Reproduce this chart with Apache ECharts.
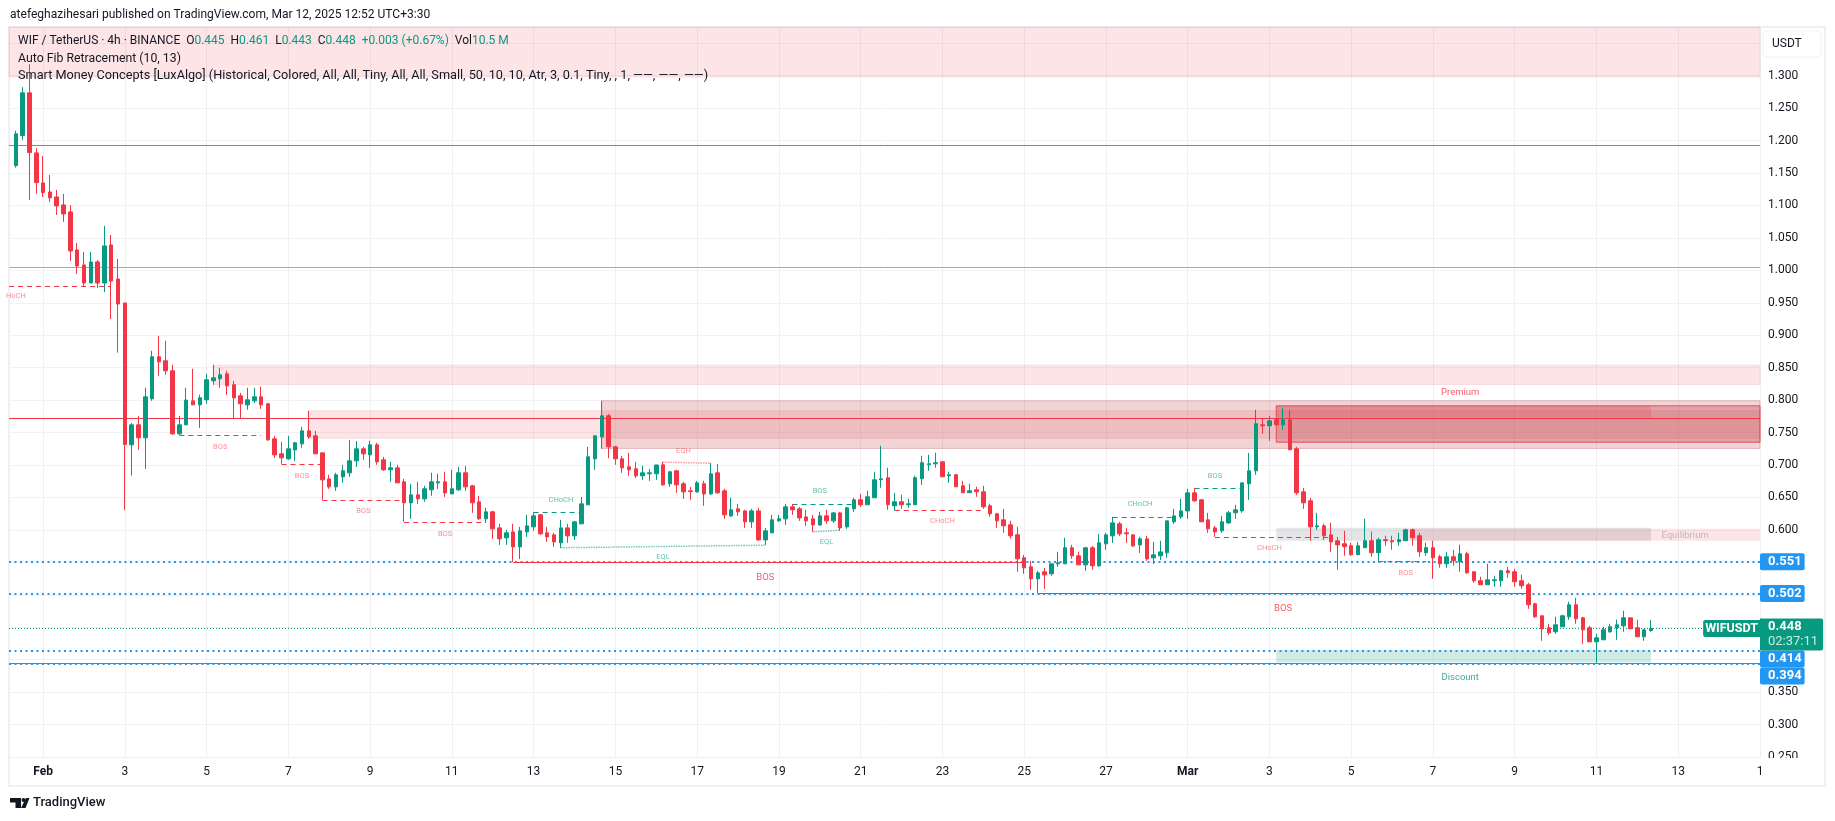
<!DOCTYPE html>
<html><head><meta charset="utf-8">
<style>html,body{margin:0;padding:0;background:#fff}#c{width:1835px;height:821px}</style>
<script src="https://cdn.jsdelivr.net/npm/echarts@6/dist/echarts.min.js"></script>
</head><body><div id="c"></div>
<script>
// candles: [open, close, low, high]
const candlesFeb1 = [
[1.1614,1.2103,1.1584,1.2149],[1.2077,1.2735,1.201,1.2822],[1.2735,1.1815,1.1085,1.3177],[1.181,1.1352,1.1178,1.1882],
[1.1347,1.1198,1.1131,1.1763],[1.1208,1.1116,1.1054,1.147],[1.1131,1.0992,1.0854,1.124],[1.1008,1.0869,1.0746,1.1178],
[1.09,1.0299,1.0144,1.1003],[1.0314,1.0067,.9944,1.0422],[1.0083,.9805,.9759,1.0283],[.9805,1.0129,.9805,1.0283],
[1.0129,.9805,.9728,1.016],[.9805,1.0376,.9666,1.0684],[1.0391,.9836,.925,1.0545],[.9867,.9481,.8731,1.0175],[.9497,.7316,.6309,.9497]];
const candlesFeb3 = [
[.7311,.7619,.6838,.7645],[.7619,.7419,.7233,.7758],[.7419,.8051,.694,.819],[.802,.8668,.7989,.876],[.8668,.859,.8375,.8991],
[.8606,.8452,.839,.8914],[.8452,.748,.7465,.8544],[.748,.7619,.7465,.7758],[.7619,.8,.7619,.819],[.7989,.7927,.7927,.8483],
[.7927,.8035,.7573,.8082],[.8005,.8313,.7943,.8405],[.8297,.8344,.8236,.8544],[.8328,.839,.819,.8498],[.8405,.822,.808,.8452],
[.8236,.8035,.7722,.8297],[.8066,.7943,.7722,.8112],[.7927,.8005,.785,.819],[.7989,.8051,.7958,.819],[.8051,.7927,.7866,.8205],
[.7943,.7388,.7372,.7958],[.7403,.7156,.711,.7449],[.7172,.711,.7018,.7357],[.7095,.7249,.7079,.7449],[.7233,.7342,.7064,.7357],
[.7326,.7526,.7264,.7588],[.7526,.7434,.7403,.7835],[.7449,.7172,.7172,.7526],[.7187,.6771,.6463,.7187],[.6786,.6663,.6632,.6848],
[.6663,.6848,.6601,.6879],[.6817,.691,.6725,.7002],[.6879,.7064,.6817,.7388],[.7064,.7249,.697,.737]];
const candlesFeb9 = [
[.7249,.7172,.708,.728],[.7157,.7311,.6956,.7373],[.7311,.7049,.7003,.7342],[.708,.6926,.691,.7126],[.6926,.6956,.6741,.7049],
[.6956,.6725,.6725,.7003],[.6741,.6417,.6124,.6787],[.6417,.654,.617,.671],[.654,.6478,.6401,.6741],[.6478,.6633,.6432,.6679],
[.6617,.6741,.6525,.688],[.6725,.6741,.6633,.6864],[.6741,.657,.6509,.6895],[.6555,.6633,.6555,.6926],[.6617,.688,.6602,.6972],
[.688,.6663,.6602,.6987],[.6679,.6417,.6263,.6694],[.6432,.617,.6155,.6525],[.617,.6278,.6108,.634],[.6278,.6016,.5862,.6294],
[.6031,.5862,.5769,.6093],[.5877,.5954,.5769,.6],[.5969,.5738,.5507,.6093],[.5738,.5985,.5553,.6047],[.5969,.6062,.5892,.6232],
[.6047,.6216,.5985,.6278],[.6232,.5939,.5923,.6247],[.5954,.5892,.5815,.6047],[.5923,.5815,.5738,.5954],[.58,.6031,.5723,.6155],
[.6031,.5908,.58,.6093],[.5908,.6124,.5846,.6139],[.6093,.6401,.6093,.6509],[.6386,.7126,.6386,.728],[.7095,.745,.6926,.745],
[.7434,.7758,.725,.799],[.7758,.728,.7105,.7789]];
const candlesFeb15 = [
[.728,.7095,.7003,.7296],[.7095,.6956,.6879,.7141],[.6972,.6926,.6833,.7188],[.6941,.6833,.6802,.7049],[.6833,.6879,.6771,.6987],
[.6864,.6879,.6756,.6941],[.6864,.7,.6771,.7003],[.7003,.6694,.6679,.7049],[.671,.6895,.6663,.691],[.691,.6694,.6571,.6926],
[.671,.6586,.6478,.6741],[.6602,.6591,.6463,.6663],[.6586,.6725,.6571,.6756],[.671,.6555,.637,.6756],[.6555,.6864,.654,.7033],
[.6879,.6571,.6555,.7018],[.6602,.6232,.617,.6633],[.6216,.6309,.62,.6494],[.6324,.6278,.6216,.6401],[.6293,.6124,.6031,.6309],
[.6124,.6293,.6031,.6324],[.6293,.5846,.583,.634],[.5846,.5985,.5769,.6031],[.5954,.6155,.5954,.6232],[.6139,.617,.6124,.6232],
[.617,.6355,.6077,.6401],[.6355,.6309,.6232,.6401],[.6324,.6185,.6139,.6355],[.62,.6139,.6062,.6309],[.617,.6077,.5969,.6232],
[.6077,.6216,.6062,.6278],[.6216,.6139,.6093,.6309],[.6139,.6262,.6108,.6278],[.6262,.6031,.5985,.6278],[.6047,.634,.6016,.6355],
[.6324,.6463,.6278,.6494]];
const candlesFeb21 = [
[.6464,.6387,.6356,.6556],[.6387,.651,.6387,.6603],[.6495,.6772,.6495,.6896],[.6772,.6788,.6649,.7296],[.6803,.6387,.631,.6957],
[.6371,.6433,.6294,.6572],[.6433,.6387,.6325,.6541],[.6387,.6402,.634,.648],[.6387,.6803,.6387,.6834],[.6788,.7034,.6695,.7142],
[.7003,.7019,.6911,.7158],[.7019,.7034,.6957,.7189],[.705,.6818,.6818,.705],[.6834,.6849,.6726,.6896],[.6849,.6664,.6664,.6865],
[.668,.6572,.6572,.6757],[.6572,.6603,.6572,.6711],[.6618,.6587,.651,.6664],[.6587,.6356,.6325,.668],[.6371,.6248,.6202,.6402],
[.6248,.614,.6032,.6263],[.6155,.6063,.5955,.6325],[.6078,.5909,.5862,.614],[.5924,.5554,.5354,.6047],[.557,.5415,.5323,.5616],
[.5431,.5246,.5076,.5523],[.5246,.5338,.503,.5369],[.5354,.5307,.5091,.5415],[.5323,.5477,.5292,.5477],[.5477,.5492,.5431,.5662],
[.5477,.5724,.5477,.5878],[.5724,.56,.5554,.577],[.56,.5461,.5461,.5662],[.5461,.5724,.5369,.5739],[.5724,.5446,.5384,.5754],
[.5446,.5801,.5431,.5939],[.5785,.5923,.5692,.5955]];
const candlesFeb27 = [
[.5908,.6108,.58,.6201],[.6093,.5939,.5908,.6124],[.5954,.5939,.58,.6031],[.5923,.5754,.5738,.5939],[.5769,.5862,.5646,.5892],
[.5862,.5553,.5522,.5908],[.5569,.5615,.5476,.5815],[.56,.5661,.5538,.5831],[.5646,.6139,.5569,.6139],[.6124,.6216,.6093,.6324],
[.6201,.6293,.617,.6478],[.6293,.6571,.617,.6633],[.6571,.6448,.6432,.6648],[.6463,.6124,.6124,.6478],[.6155,.6016,.5954,.6263],
[.6031,.5969,.5892,.6062],[.5985,.6124,.5954,.6216],[.6108,.6263,.6093,.6293],[.6263,.6309,.617,.6386],[.6293,.6725,.6263,.6725],
[.671,.691,.6463,.7188],[.691,.7635,.6848,.7851],[.762,.7604,.7481,.7727],[.7604,.7681,.7373,.7758],[.7697,.762,.7604,.7712],
[.762,.7697,.7542,.7882],[.7697,.7234,.7234,.7851]];
const candlesMar3 = [
[.7249,.6571,.654,.728],[.6586,.6417,.6324,.6648],[.6448,.6047,.5831,.6494],[.6047,.6062,.6,.6263],[.6062,.5908,.5846,.6093],
[.5923,.5815,.5661,.6108],[.5831,.5769,.5384,.5892],[.5787,.574,.5601,.5987],[.5756,.5617,.5601,.5802],[.5617,.5756,.5617,.5817],
[.5725,.5833,.5725,.6172],[.5833,.5648,.5586,.5972],[.5648,.5848,.5509,.5879],[.5848,.5833,.5756,.591],[.5833,.5817,.5694,.591],
[.5817,.5848,.5756,.5956],[.5833,.6002,.5833,.6018],[.6002,.5879,.5756,.6018],[.591,.5663,.5586,.5956],[.5648,.5725,.5601,.5802],
[.5725,.5571,.5247,.5833],[.5586,.5478,.5416,.5617],[.5478,.5586,.5416,.5663],[.5586,.5524,.5447,.5694],[.5509,.5632,.5355,.5771],
[.5632,.5339,.5324,.5663],[.5355,.5216,.5185,.5355],[.5216,.5154,.5154,.5278],[.5154,.5231,.5154,.5478]];
const candlesMar8 = [
[.5216,.5231,.5123,.5293],[.5216,.537,.5123,.5386],[.537,.5339,.5262,.5432],[.5355,.5201,.5123,.5401],[.5216,.5139,.5093,.5309],
[.5154,.4846,.4784,.5185],[.4861,.4661,.4645,.4877],[.4676,.4476,.4291,.4676],[.4491,.4414,.4383,.4553],[.443,.4537,.4399,.4661],
[.4507,.4676,.4507,.4692],[.4661,.4846,.4615,.4892],[.4846,.463,.4553,.4954],[.4645,.446,.4245,.4661],[.4491,.4275,.4275,.4522],
[.4275,.4337,.3952,.4399],[.4306,.446,.4306,.4507],[.443,.4507,.4414,.4553],[.4491,.4537,.4306,.4615],[.4522,.4645,.443,.4753],
[.4645,.4476,.4476,.4645],[.4491,.4353,.4353,.4615],[.4353,.446,.4291,.4476],[.445,.448,.443,.461]];

// x axis
const slotCount = 258;          // 4h slots shown, first one starts on Jan 31
const firstCandleSlot = 1;
const dateTickSlots = [5,17,29,41,53,65,77,89,101,113,125,137,149,161,173,185,197,209,221,233,245,257];
const dateTickTexts = ['Feb','3','5','7','9','11','13','15','17','19','21','23','25','27','Mar','3','5','7','9','11','13','1'];

// horizontal levels
const fibLevels = [1.193, 1.005];
const resistanceLevel = 0.7723;
const swingLevels = [0.551, 0.502, 0.414, 0.394];
const lastPrice = 0.448;

// zones: [startSlot, endSlot, top, bottom]
const orderBlocksLight = [[0,257,1.375,1.2978],[30,257,.8539,.8241],[44,257,.7835,.7413]];
const orderBlockDark = [87,257,.799,.7255];
const premiumBox = [186,257,.7912,.7352];
const premiumZone = [186,241,.7912,.7728];
const equilibriumZone = [186,241,.6033,.5833];
const equilibriumExt = [206,257,.6018,.5833];
const discountZone = [186,241,.4147,.3958];

// structure lines: [startSlot, endSlot, levelStart, levelEnd]
const redDashed = [[0,15,.9762,.9762],[25,37,.746,.746],[40,46,.7012,.7012],[46,58,.646,.646],[58,70,.6119,.6119],[130,143,.6304,.6304],[177,194,.5887,.5887],[201,208,.5519,.5519]];
const greenDashed = [[77,84,.6273,.6273],[115,124,.6396,.6396],[162,171,.6196,.6196],[174,181,.6638,.6638]];
const redSolid = [[74,149,.5502,.5502],[151,223,.5025,.5025]];
const eqlDotted = [[81,111,.5725,.5764],[118,122,.597,.5995]];
const eqhDotted = [[96,103,.7044,.7028]];

// labels: [slot, level, text]
const tinyRed = [[31,.727,'BOS'],[43,.6822,'BOS'],[52,.6288,'BOS'],[64,.5929,'BOS'],[99.3,.7213,'EQH'],[137,.613,'CHoCH'],[185,.5713,'CHoCH'],[205,.5334,'BOS']];
const tinyGreen = [[80.5,.6453,'CHoCH'],[96,.5574,'EQL'],[119,.6591,'BOS'],[120,.5805,'EQL'],[166,.6391,'CHoCH'],[177,.6823,'BOS']];
const bigRed = [[111,.5267,'BOS'],[187,.4788,'BOS']];

const cats = [];
for (let i = 0; i < slotCount; i++) cats.push('slot' + i);
const blank = ['-','-','-','-'];
const rows = [].concat(candlesFeb1,candlesFeb3,candlesFeb9,candlesFeb15,candlesFeb21,candlesFeb27,candlesMar3,candlesMar8);
const candleData = [];
for (let i = 0; i < slotCount; i++) {
  const r = rows[i - firstCandleSlot];
  candleData.push(r || blank);
}
const tickMap = {};
dateTickSlots.forEach((s, i) => tickMap[s] = dateTickTexts[i]);

const RED = '#F23645', GREEN = '#089981', BLUE = '#2196F3';
function lineItems(list, style) {
  return list.map(l => [{coord:[cats[l[0]], l[2]], lineStyle:style},{coord:[cats[l[1]], l[3]]}]);
}
function zone(z, fill, border) {
  return [{coord:[cats[z[0]], z[2]], itemStyle:{color:fill, borderColor:border||'transparent', borderWidth:border?1:0}},{coord:[cats[z[1]], z[3]]}];
}
function fullLine(v, style, label) {
  return [{coord:[cats[0], v], lineStyle:style, label:label||{show:false}},{coord:[cats[slotCount-1], v]}];
}
function blueTag(text, dy) {
  return {show:true, position:'end', distance:0, formatter:text, color:'#fff', backgroundColor:BLUE, fontFamily:'Roboto', fontSize:13, fontWeight:'bold',
    padding:[2,3,2,8], lineHeight:13, borderRadius:2, offset:[0,dy||0]};
}
function textPoints(list, color, size) {
  return list.map(l => ({
    value:[l[0], l[1]],
    label:{show:true, position:'inside', formatter:l[2], color:color, fontSize:size, fontFamily:'Roboto'}
  }));
}
const dotted = {color:BLUE, width:2, type:[2,3.5]};

const option = {
  animation:false,
  backgroundColor:'#fff',
  grid:{left:9, right:75, top:27, bottom:64, containLabel:false, show:false},
  xAxis:{
    type:'category', data:cats, boundaryGap:false,
    axisLine:{lineStyle:{color:'#f0f0f3'}}, axisTick:{show:false},
    splitLine:{show:true, interval:(i)=>tickMap[i]!==undefined && i<257, lineStyle:{color:'#f0f0f3',width:1}},
    axisLabel:{
      interval:(i)=>tickMap[i]!==undefined, margin:9, hideOverlap:false, showMaxLabel:true,
      fontFamily:'Roboto', fontSize:12, color:'#131722',
      formatter:(v,i)=>{const t=tickMap[i]||''; return (t==='Feb'||t==='Mar')?'{b|'+t+'}':t;},
      rich:{b:{fontFamily:'Roboto',fontSize:12,fontWeight:'bold',color:'#131722'}}
    }
  },
  yAxis:{
    type:'value', position:'right', min:0.25, max:1.375, interval:0.05,
    axisLine:{show:true,lineStyle:{color:'#f0f0f3'}}, axisTick:{show:false},
    splitLine:{lineStyle:{color:'#f2f2f4',width:1}},
    axisLabel:{margin:8, padding:[2,0,0,0], fontFamily:'Roboto', fontSize:12, color:'#131722', showMaxLabel:true,
      formatter:(v)=> v>1.31 ? '' : v.toFixed(3)}
  },
  series:[
    { name:'zones', type:'line', data:[], silent:true, z:1,
      markArea:{silent:true, z:1, data:[
        ...orderBlocksLight.map(z=>zone(z,'rgba(242,54,69,0.13)','rgba(242,54,69,0.12)')),
        zone(orderBlockDark,'rgba(178,40,51,0.2)','rgba(178,40,51,0.25)'),
        zone(premiumBox,'rgba(178,40,51,0.28)','rgba(242,54,69,0.85)'),
        zone(premiumZone,'rgba(242,54,69,0.2)'),
        zone(equilibriumZone,'rgba(120,123,134,0.2)'),
        zone(equilibriumExt,'rgba(242,54,69,0.13)'),
        zone(discountZone,'rgba(8,153,129,0.2)')
      ]}
    },
    { name:'levels', type:'line', data:[], silent:true, z:2, symbol:'none',
      markLine:{silent:true, z:2, symbol:'none', label:{show:false}, data:[
        fullLine(fibLevels[0],{color:'#4CAF50',width:1,type:'solid'}),
        fullLine(fibLevels[1],{color:'#81C784',width:1,type:'solid'}),
        fullLine(resistanceLevel,{color:RED,width:1,type:'solid'}),
        fullLine(swingLevels[3],{color:'#5a7fa8',width:1,type:'solid'}),
        fullLine(swingLevels[0],dotted,blueTag('0.551')),
        fullLine(swingLevels[1],dotted,blueTag('0.502')),
        fullLine(swingLevels[2],dotted,blueTag('0.414',8.5)),
        fullLine(swingLevels[3],dotted,blueTag('0.394',12.5)),
        fullLine(lastPrice,{color:GREEN,width:1,type:[1,2]},{
          show:true, position:'end', distance:0, offset:[0,6],
          formatter:'{a|0.448}\n{b|02:37:11}', backgroundColor:GREEN, padding:[1,5,1,8], borderRadius:[0,2,2,0],
          rich:{a:{color:'#fff',fontFamily:'Roboto',fontSize:13,fontWeight:'bold',lineHeight:15},b:{color:'rgba(255,255,255,.8)',fontFamily:'Roboto',fontSize:13,lineHeight:15}}
        }),
        ...lineItems(redDashed,{color:RED,width:1,type:[5,4]}),
        ...lineItems(greenDashed,{color:GREEN,width:1,type:[5,4]}),
        ...lineItems(redSolid,{color:RED,width:1,type:'solid'}),
        ...lineItems(eqlDotted,{color:'rgba(8,153,129,.55)',width:1.5,type:[1.5,1]}),
        ...lineItems(eqhDotted,{color:'rgba(242,54,69,.5)',width:1.5,type:[1.5,1]})
      ]}
    },
    { name:'WIFUSDT', type:'candlestick', data:candleData, z:5, barWidth:4, silent:true,
      itemStyle:{color:GREEN,color0:RED,borderColor:GREEN,borderColor0:RED,borderWidth:1}
    },
    { name:'labels', type:'scatter', symbolSize:0, silent:true, z:6, clip:false,
      data:[
        ...textPoints(tinyRed,'rgba(242,54,69,.72)',7.5),
        ...textPoints(tinyGreen,'rgba(8,153,129,.8)',7.5),
        ...textPoints(bigRed,RED,9.5),
        {value:[212.6,.811],label:{show:true,position:'inside',formatter:'Premium',color:RED,fontSize:9.5,fontFamily:'Roboto'}},
        {value:[212.6,.3727],label:{show:true,position:'inside',formatter:'Discount',color:GREEN,fontSize:9.5,fontFamily:'Roboto'}},
        {value:[245.6,.591],label:{show:true,position:'inside',formatter:'Equilibrium',color:'#a9abb3',fontSize:9.5,fontFamily:'Roboto'}},
        {value:[1.2,.96],label:{show:true,position:'inside',formatter:'HoCH',color:'rgba(242,54,69,.72)',fontSize:7.5,fontFamily:'Roboto'}}
      ]
    },
    { name:'tickerTag', type:'line', data:[], silent:true, z:7,
      markPoint:{silent:true, symbol:'circle', symbolSize:0, data:[{
        coord:[cats[slotCount-1], lastPrice],
        label:{show:true, position:'left', distance:0, offset:[0,0], formatter:'WIFUSDT', color:'#fff', backgroundColor:GREEN,
          fontFamily:'Roboto', fontSize:12.5, fontWeight:'bold', padding:[2,2,2,2], lineHeight:13, borderRadius:[2,0,0,2]}
      }]}
    }
  ],
  graphic:[
    {type:'rect', z:0, silent:true, shape:{x:9,y:27,width:1816,height:759}, style:{fill:'none',stroke:'#f0f0f3',lineWidth:2}},
    {type:'rect', z:50, silent:true, shape:{x:1761,y:758,width:62,height:26}, style:{fill:'#fff'}},
    {type:'rect', z:50, silent:true, shape:{x:1763,y:31,width:58,height:26,r:4}, style:{fill:'#fff',stroke:'#f0f3fa',lineWidth:1}},
    {type:'text', z:51, silent:true, x:1772, y:44, style:{text:'USDT',fill:'#131722',font:'12px Roboto',verticalAlign:'middle'}},
    {type:'text', z:51, silent:true, x:10, y:15, style:{text:'atefeghazihesari published on TradingView.com, Mar 12, 2025 12:52 UTC+3:30',fill:'#131722',font:'12.05px Roboto',verticalAlign:'middle'}},
    {type:'text', z:51, silent:true, x:18, y:41, style:{
      text:'WIF / TetherUS · 4h · BINANCE  O{v|0.445}  H{v|0.461}  L{v|0.443}  C{v|0.448}  {v|+0.003 (+0.67%)}  Vol{v|10.5 M}',
      fill:'#131722',font:'12px Roboto',verticalAlign:'middle',rich:{v:{fill:GREEN,font:'12px Roboto'}}}},
    {type:'text', z:51, silent:true, x:18, y:59, style:{text:'Auto Fib Retracement (10, 13)',fill:'#131722',font:'12.3px Roboto',verticalAlign:'middle'}},
    {type:'text', z:51, silent:true, x:18, y:76, style:{text:'Smart Money Concepts [LuxAlgo] (Historical, Colored, All, All, Tiny, All, All, Small, 50, 10, 10, Atr, 3, 0.1, Tiny, , 1, ——, ——, ——)',fill:'#131722',font:'12.7px Roboto',verticalAlign:'middle'}},
    {type:'polygon', z:51, silent:true, shape:{points:[[10,798],[21,798],[21,808],[15.5,808],[15.5,802.5],[10,802.5]]}, style:{fill:'#131722'}},
    {type:'circle', z:51, silent:true, shape:{cx:23.5,cy:800,r:2}, style:{fill:'#131722'}},
    {type:'polygon', z:51, silent:true, shape:{points:[[26,798],[29.5,798],[25.5,808],[21,808]]}, style:{fill:'#131722'}},
    {type:'text', z:51, silent:true, x:33, y:803, style:{text:'TradingView',fill:'#131722',font:'500 13px Roboto',verticalAlign:'middle'}}
  ]
};
const chart = echarts.init(document.getElementById('c'), null, {renderer:'canvas'});
chart.setOption(option);
</script></body></html>
